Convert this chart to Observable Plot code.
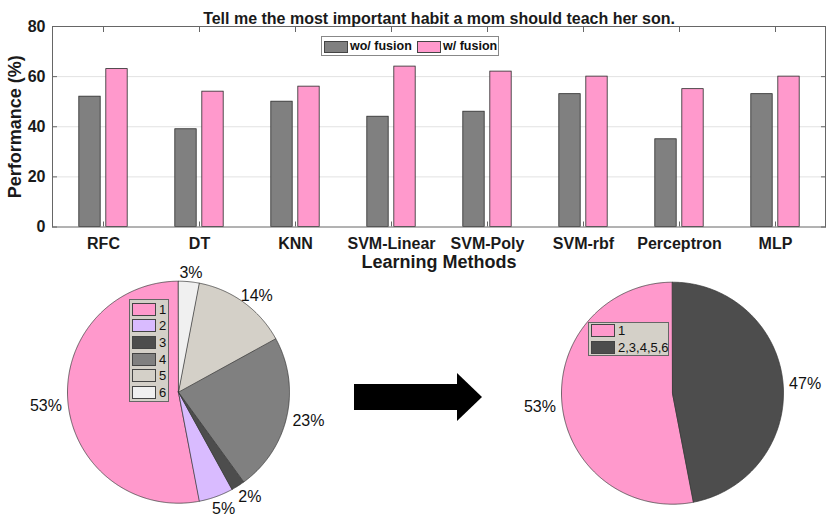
<!DOCTYPE html>
<html><head><meta charset="utf-8">
<script src="https://cdn.jsdelivr.net/npm/d3@7"></script>
<script src="https://cdn.jsdelivr.net/npm/@observablehq/plot@0.6"></script>
<style>
body{margin:0;background:#fff;font-family:"Liberation Sans",Arial,sans-serif;}
#wrap{position:relative;width:830px;height:523px;overflow:hidden;background:#fff;}
#wrap > *{position:absolute;}
.box{box-sizing:border-box;}
.box > div{position:absolute;}
.sw{box-sizing:border-box;border:1px solid #444;}
</style></head><body><div id="wrap"></div>
<script>
// ---------- data ----------
const title = "Tell me the most important habit a mom should teach her son.";
const methods = ["RFC","DT","KNN","SVM-Linear","SVM-Poly","SVM-rbf","Perceptron","MLP"];
const woFusion = [52,39,50,44,46,53,35,53];
const wFusion  = [63,54,56,64,62,60,55,60];
const seriesNames = ["wo/ fusion","w/ fusion"];
const yTicks = [0,20,40,60,80];
const yLabel = "Performance (%)";
const xLabel = "Learning Methods";
const pie1Labels = ["1","2","3","4","5","6"];
const pie1Values = [53,5,2,23,14,3];
const pie2Labels = ["1","2,3,4,5,6"];
const pie2Values = [53,47];

// ---------- styles ----------
const barColors = ["#808080","#FF99CC"];
const pie1Colors = ["#FF99CC","#D9BBFF","#4D4D4D","#808080","#D4D0C8","#F0F0F0"];
const pie2Colors = ["#FF99CC","#4D4D4D"];
const FONT = '"Liberation Sans", Arial, sans-serif';

const wrap = document.getElementById("wrap");

// ---------- bar chart ----------
const barData = methods.flatMap((m,i)=>[
  {method:m, series:seriesNames[0], value:woFusion[i]},
  {method:m, series:seriesNames[1], value:wFusion[i]}
]);
const W=830, H=275, mL=52, mR=5, mT=26, mB=H-226.5;
const bw = (W-mL-mR)/methods.length, barW = 22, off = 13.5;
const ins = (bw-barW)/2;
const bar = Plot.plot({
  width:W, height:H, marginTop:mT, marginBottom:mB, marginLeft:mL, marginRight:mR,
  style:{background:"transparent", fontFamily:FONT, color:"#1a1a1a", overflow:"visible"},
  x:{domain:methods, padding:0},
  y:{domain:[0,80]},
  color:{domain:seriesNames, range:barColors},
  marks:[
    Plot.gridY([20,40,60], {stroke:"#e2e2e2", strokeOpacity:1}),
    Plot.barY(barData.filter(d=>d.series===seriesNames[0]), {x:"method", y:"value", fill:"series", stroke:"#2a2a2a", strokeWidth:0.8, insetLeft:ins, insetRight:ins, dx:-off}),
    Plot.barY(barData.filter(d=>d.series===seriesNames[1]), {x:"method", y:"value", fill:"series", stroke:"#2a2a2a", strokeWidth:0.8, insetLeft:ins, insetRight:ins, dx:off}),
    Plot.frame({stroke:"#666"}),
    Plot.axisY(yTicks, {anchor:"left", tickSize:-5, tickPadding:12, fontSize:16, fontWeight:"bold", stroke:"#666", label:null}),
    Plot.axisY(yTicks, {anchor:"right", tickSize:-5, tickFormat:()=>"", stroke:"#666", label:null}),
    Plot.axisX({anchor:"bottom", tickSize:-5, tickPadding:15.5, fontSize:16, fontWeight:"bold", stroke:"#666", label:null}),
    Plot.axisX({anchor:"top", tickSize:-5, tickFormat:()=>"", stroke:"#666", label:null}),
    Plot.text([title], {frameAnchor:"top", dy:-14, fontSize:16, fontWeight:"bold"}),
    Plot.text([yLabel], {frameAnchor:"left", textAnchor:"middle", rotate:-90, dx:-37, fontSize:18, fontWeight:"bold"}),
    Plot.text([xLabel], {frameAnchor:"bottom", dy:40.5, fontSize:18, fontWeight:"bold"})
  ]
});
bar.style.left="0px"; bar.style.top="0px";
wrap.appendChild(bar);

// bar legend
function barLegend(){
  const d = document.createElement("div");
  d.className="box";
  Object.assign(d.style,{left:"321px",top:"36px",width:"178px",height:"20px",border:"1px solid #888",background:"#fff"});
  const xs=[[2,28],[95,121]];
  seriesNames.forEach((s,i)=>{
    const sw=document.createElement("div"); sw.className="sw";
    Object.assign(sw.style,{left:xs[i][0]+"px",top:"3.5px",width:"24px",height:"12px",background:barColors[i]});
    const t=document.createElement("div"); t.textContent=s;
    Object.assign(t.style,{left:xs[i][1]+"px",top:"1px",fontSize:"12.5px",fontWeight:"bold",lineHeight:"16px",color:"#111",whiteSpace:"nowrap"});
    d.appendChild(sw); d.appendChild(t);
  });
  wrap.appendChild(d);
}
barLegend();

// ---------- pies ----------
function piePlot(labels, values, colors, cfg){
  const R = 111, total = d3.sum(values);
  let acc = 0; const pts=[], labs=[];
  labels.forEach((lab,i)=>{
    const a0 = acc/total*2*Math.PI, a1=(acc+values[i])/total*2*Math.PI;
    acc += values[i];
    pts.push({slice:lab,x:0,y:0});
    const n = Math.max(2, Math.ceil((a1-a0)/(Math.PI/360)));
    for(let k=0;k<=n;k++){const a=a0+(a1-a0)*k/n; pts.push({slice:lab,x:-Math.sin(a),y:Math.cos(a)});}
    const am=(a0+a1)/2;
    labs.push({x:-Math.sin(am)*1.2, y:Math.cos(am)*1.1, t:Math.round(values[i]/total*100)+"%"});
  });
  const p = Plot.plot({
    width:cfg.w, height:cfg.h, margin:0,
    style:{background:"transparent", fontFamily:FONT, color:"#111", overflow:"visible"},
    x:{domain:[-cfg.cx/R,(cfg.w-cfg.cx)/R], axis:null},
    y:{domain:[-(cfg.h-cfg.cy)/R, cfg.cy/R], axis:null},
    color:{domain:labels, range:colors},
    marks:[
      Plot.line(pts,{x:"x",y:"y",z:"slice",fill:"slice",stroke:"#333",strokeWidth:0.7,curve:"linear-closed"}),
      Plot.text(labs,{x:"x",y:"y",text:"t",fontSize:16,dy:2})
    ]
  });
  p.style.left=cfg.left+"px"; p.style.top=cfg.top+"px";
  wrap.appendChild(p);
}
piePlot(pie1Labels, pie1Values, pie1Colors, {left:0, top:255, w:370, h:268, cx:178, cy:136.7});
piePlot(pie2Labels, pie2Values, pie2Colors, {left:500, top:255, w:330, h:268, cx:172, cy:137.7});

function pieLegend(labels, colors, pos){
  const d=document.createElement("div"); d.className="box";
  Object.assign(d.style,{left:pos.left+"px",top:pos.top+"px",width:pos.w+"px",height:pos.h+"px",background:"#D4D0C8",border:"1px solid #666"});
  labels.forEach((l,i)=>{
    const sw=document.createElement("div"); sw.className="sw";
    Object.assign(sw.style,{left:"2px",top:(pos.t0+i*pos.pitch)+"px",width:"24px",height:"13px",background:colors[i]});
    const t=document.createElement("div"); t.textContent=l;
    Object.assign(t.style,{left:"29px",top:(pos.t0+i*pos.pitch-1)+"px",fontSize:"13px",lineHeight:"15px",color:"#111",whiteSpace:"nowrap"});
    d.appendChild(sw); d.appendChild(t);
  });
  wrap.appendChild(d);
}
pieLegend(pie1Labels, pie1Colors, {left:129, top:299, w:40, h:103, t0:2.5, pitch:16.7});
pieLegend(pie2Labels, pie2Colors, {left:588, top:322, w:81, h:34, t0:0.5, pitch:17});

// ---------- arrow ----------
const shaft=document.createElement("div");
Object.assign(shaft.style,{left:"354px",top:"384px",width:"104px",height:"26px",background:"#000"});
const head=document.createElement("div");
Object.assign(head.style,{left:"457px",top:"373px",width:"0",height:"0",borderLeft:"25px solid #000",borderTop:"24.5px solid transparent",borderBottom:"24.5px solid transparent"});
wrap.appendChild(shaft); wrap.appendChild(head);
</script></body></html>
